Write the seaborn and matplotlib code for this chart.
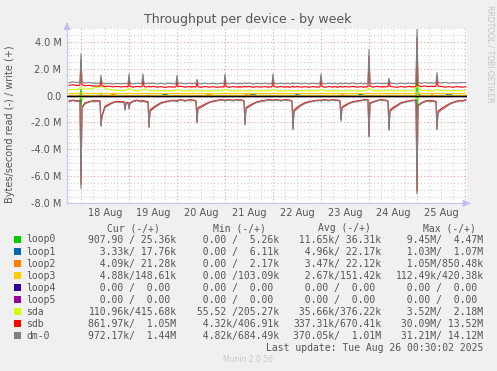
import numpy as np
import pandas as pd
import matplotlib
matplotlib.use("Agg")
import matplotlib.pyplot as plt
import matplotlib.dates as mdates
import matplotlib.transforms as mtransforms
from matplotlib.ticker import MultipleLocator, FuncFormatter
import seaborn as sns

# ---------------- data (MB/s) ----------------
# Disk series (sdb, dm-0): sampled at the hours below (relative to each day's
# midnight), finer around the nightly write burst and the 10:00 read burst.
day_dates = ["2025-08-18", "2025-08-19", "2025-08-20", "2025-08-21",
             "2025-08-22", "2025-08-23", "2025-08-24", "2025-08-25"]
day_sample_hours = [0, 0.5, 2, 4, 6, 6.5, 7, 7.5, 8, 9.5, 10, 10.5,
                    12, 14, 16, 18, 20, 21.5, 22, 22.5, 23.5]
pre_times = ["2025-08-17 18:00", "2025-08-17 20:00", "2025-08-17 22:00", "2025-08-17 23:30"]
post_times = ["2025-08-26 00:00", "2025-08-26 00:30"]

dm0_write = [
    0.95, 1.02, 0.96, 1.00,
    3.10, 1.00, 0.92, 0.97, 0.90, 0.94, 0.88, 0.93, 0.90, 0.92, 1.50, 0.95, 0.86, 0.91, 0.85, 0.90, 0.86, 0.90, 0.87, 0.91, 0.86,
    1.60, 0.92, 0.86, 0.92, 0.88, 0.93, 1.60, 0.92, 0.88, 0.90, 0.95, 0.87, 0.93, 0.86, 0.91, 0.85, 0.92, 0.87, 0.91, 0.86, 0.90,
    1.50, 0.90, 0.93, 0.87, 0.92, 0.88, 0.91, 0.86, 0.92, 0.88, 1.20, 0.90, 0.86, 0.92, 0.87, 0.91, 0.86, 0.90, 0.87, 0.92, 0.87,
    1.60, 0.92, 0.86, 0.93, 0.87, 0.91, 0.86, 0.92, 0.87, 0.91, 0.95, 0.88, 0.93, 0.86, 0.91, 0.87, 0.92, 0.86, 0.91, 0.87, 0.90,
    1.60, 0.91, 0.87, 0.92, 0.86, 0.91, 0.88, 0.93, 0.86, 0.90, 0.95, 0.87, 0.92, 0.87, 0.91, 0.86, 0.92, 0.87, 0.91, 0.86, 0.90,
    1.60, 0.92, 0.86, 0.92, 0.87, 0.93, 0.88, 0.92, 0.86, 0.91, 0.94, 0.87, 0.92, 0.88, 0.93, 0.87, 0.91, 0.86, 0.92, 0.87, 0.92,
    3.40, 0.95, 0.87, 0.93, 0.88, 0.92, 0.87, 0.93, 0.88, 0.91, 1.30, 0.92, 0.90, 0.86, 0.92, 0.87, 0.93, 0.88, 0.92, 0.88, 0.94,
    4.90, 1.00, 0.90, 0.96, 0.91, 0.95, 0.92, 0.97, 0.91, 0.94, 1.70, 0.96, 0.93, 0.97, 0.91, 0.96, 0.92, 0.97, 0.93, 0.96, 0.95,
    0.97, 0.95]
sdb_write = [
    0.76, 0.80, 0.74, 0.78,
    2.60, 0.80, 0.72, 0.76, 0.70, 0.73, 0.69, 0.72, 0.70, 0.71, 1.20, 0.74, 0.66, 0.70, 0.64, 0.68, 0.63, 0.67, 0.64, 0.68, 0.63,
    1.30, 0.68, 0.62, 0.68, 0.64, 0.67, 1.30, 0.68, 0.64, 0.65, 0.70, 0.63, 0.68, 0.62, 0.66, 0.60, 0.66, 0.62, 0.66, 0.61, 0.65,
    1.20, 0.66, 0.68, 0.62, 0.67, 0.63, 0.66, 0.61, 0.67, 0.63, 1.00, 0.65, 0.61, 0.67, 0.62, 0.66, 0.61, 0.65, 0.62, 0.66, 0.62,
    1.30, 0.67, 0.61, 0.67, 0.62, 0.66, 0.61, 0.67, 0.62, 0.66, 0.70, 0.63, 0.68, 0.61, 0.66, 0.62, 0.67, 0.61, 0.66, 0.62, 0.65,
    1.30, 0.66, 0.62, 0.67, 0.61, 0.66, 0.63, 0.68, 0.61, 0.65, 0.70, 0.62, 0.67, 0.62, 0.66, 0.61, 0.67, 0.62, 0.66, 0.61, 0.65,
    1.30, 0.67, 0.61, 0.67, 0.62, 0.68, 0.63, 0.67, 0.61, 0.66, 0.69, 0.62, 0.67, 0.63, 0.68, 0.62, 0.66, 0.61, 0.67, 0.62, 0.67,
    2.90, 0.70, 0.62, 0.68, 0.63, 0.67, 0.62, 0.68, 0.63, 0.66, 1.10, 0.67, 0.65, 0.61, 0.67, 0.62, 0.68, 0.63, 0.67, 0.63, 0.69,
    4.30, 0.76, 0.66, 0.71, 0.65, 0.70, 0.67, 0.72, 0.66, 0.69, 1.40, 0.70, 0.68, 0.62, 0.66, 0.61, 0.67, 0.62, 0.66, 0.61, 0.64,
    0.65, 0.63]
dm0_read = [
    -0.45, -0.38, -0.44, -0.40,
    -6.90, -0.95, -0.62, -0.50, -0.42, -0.48, -0.40, -0.46, -0.42, -0.45, -2.30, -1.60, -0.90, -0.72, -0.55, -0.48, -0.52, -0.50, -1.10, -0.60, -0.55,
    -1.00, -0.62, -0.46, -0.38, -0.48, -0.40, -0.46, -0.40, -0.48, -0.50, -2.40, -1.20, -1.00, -0.78, -0.60, -0.50, -0.44, -0.40, -0.38, -0.42, -0.40,
    -0.46, -0.40, -0.34, -0.42, -0.35, -0.40, -0.34, -0.40, -0.36, -0.42, -2.05, -1.00, -0.90, -0.72, -0.55, -0.46, -0.40, -0.36, -0.34, -0.38, -0.36,
    -0.42, -0.38, -0.34, -0.40, -0.33, -0.38, -0.34, -0.40, -0.35, -0.42, -2.20, -1.00, -0.85, -0.66, -0.52, -0.45, -0.40, -0.36, -0.34, -0.38, -0.35,
    -0.40, -0.36, -0.34, -0.41, -0.34, -0.38, -0.34, -0.40, -0.36, -0.44, -2.55, -1.20, -1.00, -0.76, -0.60, -0.50, -0.44, -0.40, -0.38, -0.40, -0.38,
    -0.42, -0.38, -0.34, -0.40, -0.33, -0.38, -0.34, -0.40, -0.36, -0.42, -1.90, -0.95, -0.80, -0.62, -0.50, -0.45, -0.40, -0.36, -0.34, -0.37, -0.35,
    -3.10, -0.60, -0.52, -0.40, -0.34, -0.39, -0.34, -0.40, -0.36, -0.44, -2.60, -1.20, -1.00, -0.80, -0.60, -0.50, -0.44, -0.40, -0.38, -0.41, -0.38,
    -7.30, -0.80, -0.62, -0.46, -0.40, -0.45, -0.41, -0.46, -0.42, -0.48, -2.55, -1.30, -1.10, -0.90, -0.70, -0.55, -0.46, -0.42, -0.40, -0.43, -0.40,
    -0.36, -0.38]
sdb_read = [
    -0.40, -0.34, -0.40, -0.36,
    -6.60, -0.85, -0.55, -0.45, -0.38, -0.43, -0.36, -0.41, -0.38, -0.40, -2.20, -1.45, -0.80, -0.64, -0.50, -0.43, -0.47, -0.45, -1.00, -0.54, -0.50,
    -0.90, -0.55, -0.41, -0.34, -0.43, -0.36, -0.41, -0.36, -0.43, -0.45, -2.30, -1.08, -0.90, -0.70, -0.54, -0.45, -0.40, -0.36, -0.34, -0.38, -0.36,
    -0.41, -0.36, -0.30, -0.38, -0.31, -0.36, -0.30, -0.36, -0.32, -0.38, -1.95, -0.90, -0.80, -0.64, -0.50, -0.41, -0.36, -0.32, -0.30, -0.34, -0.32,
    -0.38, -0.34, -0.30, -0.36, -0.30, -0.34, -0.30, -0.36, -0.31, -0.38, -2.10, -0.90, -0.76, -0.60, -0.47, -0.40, -0.36, -0.32, -0.30, -0.34, -0.31,
    -0.36, -0.32, -0.30, -0.37, -0.30, -0.34, -0.30, -0.36, -0.32, -0.40, -2.45, -1.08, -0.90, -0.68, -0.54, -0.45, -0.40, -0.36, -0.34, -0.36, -0.34,
    -0.38, -0.34, -0.30, -0.36, -0.30, -0.34, -0.30, -0.36, -0.32, -0.38, -1.80, -0.85, -0.72, -0.56, -0.45, -0.40, -0.36, -0.32, -0.30, -0.33, -0.31,
    -3.00, -0.54, -0.47, -0.36, -0.30, -0.35, -0.30, -0.36, -0.32, -0.40, -2.50, -1.08, -0.90, -0.72, -0.54, -0.45, -0.40, -0.36, -0.34, -0.37, -0.34,
    -7.10, -0.72, -0.56, -0.41, -0.36, -0.40, -0.37, -0.41, -0.38, -0.43, -2.45, -1.17, -1.00, -0.80, -0.63, -0.50, -0.41, -0.38, -0.36, -0.39, -0.36,
    -0.32, -0.34]

# sda and loop3: 2-hour samples from 17 Aug 18:00
coarse_start = "2025-08-17 18:00"
coarse_points = 100
sda_write = [
    0.42, 0.45, 0.42,
    0.60, 0.46, 0.50, 0.55, 0.60, 0.70, 0.56, 0.46, 0.41, 0.39, 0.37, 0.36,
    0.55, 0.37, 0.35, 0.36, 0.50, 0.36, 0.35, 0.34, 0.36, 0.34, 0.35, 0.34,
    0.45, 0.35, 0.34, 0.36, 0.34, 0.40, 0.35, 0.34, 0.35, 0.34, 0.36, 0.34,
    0.46, 0.35, 0.34, 0.35, 0.34, 0.36, 0.34, 0.35, 0.34, 0.36, 0.34, 0.35,
    0.46, 0.34, 0.35, 0.34, 0.36, 0.35, 0.34, 0.35, 0.34, 0.35, 0.36, 0.34,
    0.45, 0.35, 0.34, 0.36, 0.34, 0.35, 0.34, 0.36, 0.35, 0.34, 0.35, 0.34,
    0.55, 0.36, 0.34, 0.35, 0.34, 0.40, 0.35, 0.34, 0.36, 0.34, 0.35, 0.34,
    0.70, 0.40, 0.36, 0.35, 0.34, 0.45, 0.36, 0.35, 0.34, 0.35, 0.36, 0.35,
    0.35]
sda_read = [
    -0.06, -0.05, -0.06,
    -0.20, -0.08, -0.06, -0.05, -0.06, -0.10, -0.08, -0.06, -0.05, -0.06, -0.05, -0.06,
    -0.08, -0.05, -0.06, -0.05, -0.06, -0.10, -0.07, -0.06, -0.05, -0.06, -0.05, -0.06,
    -0.07, -0.05, -0.06, -0.05, -0.06, -0.10, -0.07, -0.05, -0.06, -0.05, -0.06, -0.05,
    -0.07, -0.06, -0.05, -0.06, -0.05, -0.11, -0.07, -0.06, -0.05, -0.06, -0.05, -0.06,
    -0.07, -0.05, -0.06, -0.05, -0.06, -0.12, -0.07, -0.06, -0.05, -0.06, -0.05, -0.06,
    -0.07, -0.06, -0.05, -0.06, -0.05, -0.10, -0.07, -0.05, -0.06, -0.05, -0.06, -0.05,
    -0.12, -0.06, -0.05, -0.06, -0.05, -0.11, -0.07, -0.06, -0.05, -0.06, -0.05, -0.06,
    -0.25, -0.08, -0.06, -0.05, -0.06, -0.12, -0.08, -0.06, -0.05, -0.06, -0.05, -0.06,
    -0.05]
loop3_write = [
    0.15, 0.15, 0.16,
    0.20, 0.15, 0.15, 0.16, 0.15, 0.18, 0.15, 0.15, 0.15, 0.16, 0.15, 0.15,
    0.17, 0.15, 0.15, 0.15, 0.16, 0.15, 0.15, 0.15, 0.15, 0.15, 0.16, 0.15,
    0.16, 0.15, 0.15, 0.15, 0.15, 0.17, 0.15, 0.15, 0.16, 0.15, 0.15, 0.15,
    0.17, 0.15, 0.15, 0.16, 0.15, 0.15, 0.15, 0.15, 0.15, 0.16, 0.15, 0.15,
    0.16, 0.15, 0.15, 0.15, 0.15, 0.16, 0.15, 0.15, 0.15, 0.15, 0.16, 0.15,
    0.17, 0.15, 0.15, 0.15, 0.16, 0.15, 0.15, 0.15, 0.15, 0.15, 0.15, 0.15,
    0.18, 0.15, 0.15, 0.15, 0.15, 0.16, 0.15, 0.15, 0.16, 0.15, 0.15, 0.15,
    0.22, 0.16, 0.15, 0.15, 0.15, 0.17, 0.15, 0.15, 0.15, 0.15, 0.15, 0.15,
    0.15]
# sparse small series on the disk sample times: {sample index: value}, zero elsewhere
loop0_write_blips = {4: 0.45, 14: 0.08, 151: 1.90, 152: 0.15}
loop0_read_blips = {4: -0.80, 5: -0.10, 151: -1.60, 152: -0.12}
loop1_write_blips = {40: 0.10, 80: 0.12, 100: 0.08, 125: 0.10, 165: 0.12}
loop1_read_blips = {80: -0.05}
loop2_write_blips = {18: 0.08, 60: 0.10, 78: 0.09, 120: 0.08, 158: 0.10}
loop2_read_blips = {60: -0.05}
loop3_read_blips = {105: -0.04}

series_names = ["loop0", "loop1", "loop2", "loop3", "loop4", "loop5", "sda", "sdb", "dm-0"]
series_colors = ["#00cc00", "#0066b3", "#ff8000", "#ffcc00", "#330099", "#990099",
                 "#ccff00", "#ff0000", "#808080"]

day_labels = ["18 Aug", "19 Aug", "20 Aug", "21 Aug", "22 Aug", "23 Aug", "24 Aug", "25 Aug"]

cur_col = ["907.90 / 25.36k", "  3.33k/ 17.76k", "  4.09k/ 21.28k", "  4.88k/148.61k",
           "  0.00 /  0.00 ", "  0.00 /  0.00 ", "110.96k/415.68k", "861.97k/  1.05M",
           "972.17k/  1.44M"]
min_col = ["  0.00 /  5.26k", "  0.00 /  6.11k", "  0.00 /  2.17k", "  0.00 /103.09k",
           "  0.00 /  0.00 ", "  0.00 /  0.00 ", " 55.52 /205.27k", "  4.32k/406.91k",
           "  4.82k/684.49k"]
avg_col = [" 11.65k/ 36.31k", "  4.96k/ 22.17k", "  3.47k/ 22.12k", "  2.67k/151.42k",
           "  0.00 /  0.00 ", "  0.00 /  0.00 ", " 35.66k/376.22k", "337.31k/670.41k",
           "370.05k/  1.01M"]
max_col = ["  9.45M/  4.47M", "  1.03M/  1.07M", "  1.05M/850.48k", "112.49k/420.38k",
           "  0.00 /  0.00 ", "  0.00 /  0.00 ", "  3.52M/  2.18M", " 30.09M/ 13.52M",
           " 31.21M/ 14.12M"]
col_headers = ["Cur (-/+)", "Min (-/+)", "Avg (-/+)", "Max (-/+)"]

title = "Throughput per device - by week"
ylabel = "Bytes/second read (-) / write (+)"
last_update = "Last update: Tue Aug 26 00:30:02 2025"
footer = "Munin 2.0.56"
side_text = "RRDTOOL / TOBI OETIKER"

# ---------------- build data ----------------
fine_times = [pd.Timestamp(t) for t in pre_times]
for d in day_dates:
    for h in day_sample_hours:
        fine_times.append(pd.Timestamp(d) + pd.Timedelta(hours=h))
fine_times += [pd.Timestamp(t) for t in post_times]
fine_times = pd.DatetimeIndex(fine_times)
coarse_times = pd.date_range(coarse_start, periods=coarse_points, freq="2h")
n_fine = len(fine_times)


def from_blips(blips):
    arr = np.zeros(n_fine)
    for k, v in blips.items():
        arr[k] = v
    return arr


series_data = {
    "loop0": (fine_times, from_blips(loop0_read_blips), from_blips(loop0_write_blips)),
    "loop1": (fine_times, from_blips(loop1_read_blips), from_blips(loop1_write_blips)),
    "loop2": (fine_times, from_blips(loop2_read_blips), from_blips(loop2_write_blips)),
    "loop3": (None, None, None),
    "loop4": (fine_times, np.zeros(n_fine), np.zeros(n_fine)),
    "loop5": (fine_times, np.zeros(n_fine), np.zeros(n_fine)),
    "sda": (coarse_times, np.array(sda_read), np.array(sda_write)),
    "sdb": (fine_times, np.array(sdb_read), np.array(sdb_write)),
    "dm-0": (fine_times, np.array(dm0_read), np.array(dm0_write)),
}

# ---------------- figure ----------------
sns.set_theme(style="white")
plt.rcParams["font.family"] = ["DejaVu Sans"]
W, H = 497, 371
fig = plt.figure(figsize=(W / 100, H / 100), dpi=100, facecolor="#f0f0f0")

ax_l, ax_r, ax_t, ax_b = 67, 467, 27.5, 203.3
ax = fig.add_axes([ax_l / W, 1 - ax_b / H, (ax_r - ax_l) / W, (ax_b - ax_t) / H])
ax.set_facecolor("white")

txt_col = "#555555"
major_grid = "#eba3a3"
minor_grid = "#d2d2d2"


def draw(times, values, color):
    df = pd.DataFrame({"time": times, "value": values})
    sns.lineplot(data=df, x="time", y="value", color=color, linewidth=0.8,
                 estimator=None, errorbar=None, legend=False, ax=ax)


for name, color in zip(series_names, series_colors):
    if name == "loop3":
        draw(fine_times, from_blips(loop3_read_blips), color)
        draw(coarse_times, np.array(loop3_write), color)
        continue
    t, rd, wr = series_data[name]
    draw(t, rd, color)
    draw(t, wr, color)

ax.axhline(0, color="black", linewidth=1.0, zorder=5)

ax.set_xlim(pd.Timestamp("2025-08-17 17:00"), pd.Timestamp("2025-08-26 01:00"))
ax.set_ylim(-8.0, 5.05)
ax.set_xlabel("")
ax.set_ylabel("")

# grid
ax.xaxis.set_major_locator(mdates.DayLocator())
ax.xaxis.set_minor_locator(mdates.HourLocator(byhour=[6, 12, 18]))
ax.xaxis.set_major_formatter(FuncFormatter(lambda v, p: ""))
ax.yaxis.set_major_locator(MultipleLocator(2.0))
ax.yaxis.set_minor_locator(MultipleLocator(0.5))
ax.yaxis.set_major_formatter(FuncFormatter(lambda v, p: "0.0" if abs(v) < 1e-9 else f"{v:.1f} M"))
ax.grid(True, which="major", color=major_grid, linestyle=(0, (1, 2)), linewidth=0.8)
ax.grid(True, which="minor", color=minor_grid, linestyle=(0, (1, 2)), linewidth=0.8)
ax.set_axisbelow(True)
ax.tick_params(axis="x", which="both", length=0)
ax.tick_params(axis="y", which="major", length=2, color="#c8c8e8", labelsize=7,
               labelcolor=txt_col, pad=2)
ax.tick_params(axis="y", which="minor", length=1, color="#c8c8e8")

for s in ["top", "right"]:
    ax.spines[s].set_visible(False)
for s in ["left", "bottom"]:
    ax.spines[s].set_color("#c8c8ee")
    ax.spines[s].set_linewidth(0.8)

arrow_col = "#c0c0f0"
ax.annotate("", xy=(1.0 + 6 / 400, 0), xytext=(1.0, 0), xycoords="axes fraction",
            arrowprops=dict(arrowstyle="-|>,head_length=0.35,head_width=0.18",
                            color=arrow_col, lw=0.8), annotation_clip=False)
ax.annotate("", xy=(0, 1.0 + 5 / 176), xytext=(0, 1.0), xycoords="axes fraction",
            arrowprops=dict(arrowstyle="-|>,head_length=0.35,head_width=0.18",
                            color=arrow_col, lw=0.8), annotation_clip=False)

# day labels at noon
trans = mtransforms.blended_transform_factory(ax.transData, fig.transFigure)
for lab, d in zip(day_labels, day_dates):
    ax.text(mdates.date2num(pd.Timestamp(d) + pd.Timedelta(hours=12)), 1 - 212.5 / H, lab,
            transform=trans, ha="center", va="center", fontsize=7, color=txt_col)

# titles
fig.text(248 / W, 1 - 20 / H, title, ha="center", va="center", fontsize=9, color=txt_col)
fig.text(10 / W, 1 - 124 / H, ylabel, ha="center", va="center", rotation=90,
         fontsize=7, color=txt_col)
fig.text(490 / W, 1 - 5 / H, side_text, ha="center", va="top", rotation=270,
         fontsize=5.5, color="#c4c4c4")

# legend table
mono = "DejaVu Sans Mono"
header_x = [107, 213, 318, 423]
for hx, htxt in zip(header_x, col_headers):
    fig.text(hx / W, 1 - 228 / H, htxt, ha="left", va="center", fontsize=7,
             family=mono, color=txt_col)

col_right = [176.5, 279.5, 381.5, 483.5]
for r, (name, color) in enumerate(zip(series_names, series_colors)):
    yc = 239.5 + r * 12.05
    fig.patches.append(plt.Rectangle((14 / W, 1 - (yc + 3.5) / H), 7 / W, 7 / H,
                                     transform=fig.transFigure, facecolor=color,
                                     edgecolor="none", figure=fig))
    fig.text(26 / W, 1 - yc / H, name, ha="left", va="center", fontsize=7,
             family=mono, color=txt_col)
    for cx, col in zip(col_right, [cur_col, min_col, avg_col, max_col]):
        fig.text(cx / W, 1 - yc / H, col[r], ha="right", va="center", fontsize=7,
                 family=mono, color=txt_col)

fig.text(483.5 / W, 1 - 348 / H, last_update, ha="right", va="center", fontsize=7,
         family=mono, color=txt_col)
fig.text(248 / W, 1 - 360 / H, footer, ha="center", va="center", fontsize=5.5,
         color="#c8c8c8")

fig.savefig("out.png", dpi=100, facecolor=fig.get_facecolor())
